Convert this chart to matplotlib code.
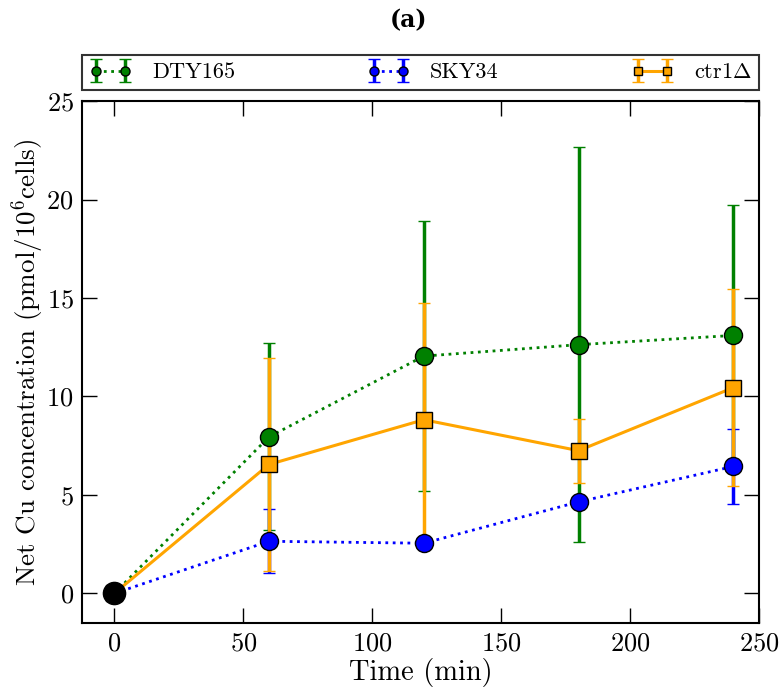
import numpy as np
import matplotlib
matplotlib.use('Agg')
import matplotlib.pyplot as plt

plt.rcParams['font.family'] = 'cmr10'
plt.rcParams['mathtext.fontset'] = 'cm'
plt.rcParams['axes.unicode_minus'] = False
plt.rcParams['axes.formatter.use_mathtext'] = True

time = [0, 60, 120, 180, 240]

dty165 = [0, 7.95, 12.05, 12.63, 13.1]
dty165_err = [0, 4.75, 6.85, 10.03, 6.6]

sky34 = [0, 2.65, 2.55, 4.65, 6.45]
sky34_err = [0, 1.62, 0.1, 0.15, 1.9]

ctr1 = [0, 6.55, 8.82, 7.25, 10.45]
ctr1_err = [0, 5.4, 5.95, 1.62, 5.0]

fig = plt.figure(figsize=(7.81, 6.92), dpi=100)
ax = fig.add_axes([0.105, 0.0997, 0.867, 0.7543])

ax.errorbar(time, dty165, yerr=dty165_err, color='green', ls=':', lw=2,
            marker='o', ms=13, mfc='green', mec='black', mew=1,
            elinewidth=2.5, capsize=4, capthick=2, label='DTY165')
ax.errorbar(time, sky34, yerr=sky34_err, color='blue', ls=':', lw=2,
            marker='o', ms=13, mfc='blue', mec='black', mew=1,
            elinewidth=2.5, capsize=4, capthick=2, label='SKY34')
ax.errorbar(time, ctr1, yerr=ctr1_err, color='orange', ls='-', lw=2.2,
            marker='s', ms=11.5, mfc='orange', mec='black', mew=1,
            elinewidth=2.5, capsize=4, capthick=1.5, label=r'ctr1$\Delta$')
ax.plot([time[0]], [dty165[0]], 'o', color='black', ms=16, zorder=5)

ax.set_xlim(-12.5, 250)
ax.set_ylim(-1.5, 25)
ax.set_xticks([0, 50, 100, 150, 200, 250])
ax.set_yticks([0, 5, 10, 15, 20, 25])
ax.tick_params(direction='in', length=11, width=1, top=True, right=True,
               labelsize=19, pad=6)
for s in ax.spines.values():
    s.set_linewidth(1.5)

ax.set_xlabel('Time (min)', fontsize=20.5, labelpad=2)
ax.set_ylabel(r'Net Cu concentration (pmol/$10^6$cells)', fontsize=19.5, labelpad=0)

leg = ax.legend(loc='lower left', bbox_to_anchor=(0, 1.021, 1, 0.073), mode='expand',
                ncol=3, borderaxespad=0, numpoints=2, fontsize=16, fancybox=False,
                edgecolor='black', markerscale=0.5, handlelength=1.9,
                handletextpad=0.9, borderpad=0.35)
leg.get_frame().set_linewidth(1.5)

fig.text(0.523, 0.971, '(a)', ha='center', va='center', fontsize=17,
         fontweight='bold', family='DejaVu Serif')

fig.savefig('out.png', dpi=100)
